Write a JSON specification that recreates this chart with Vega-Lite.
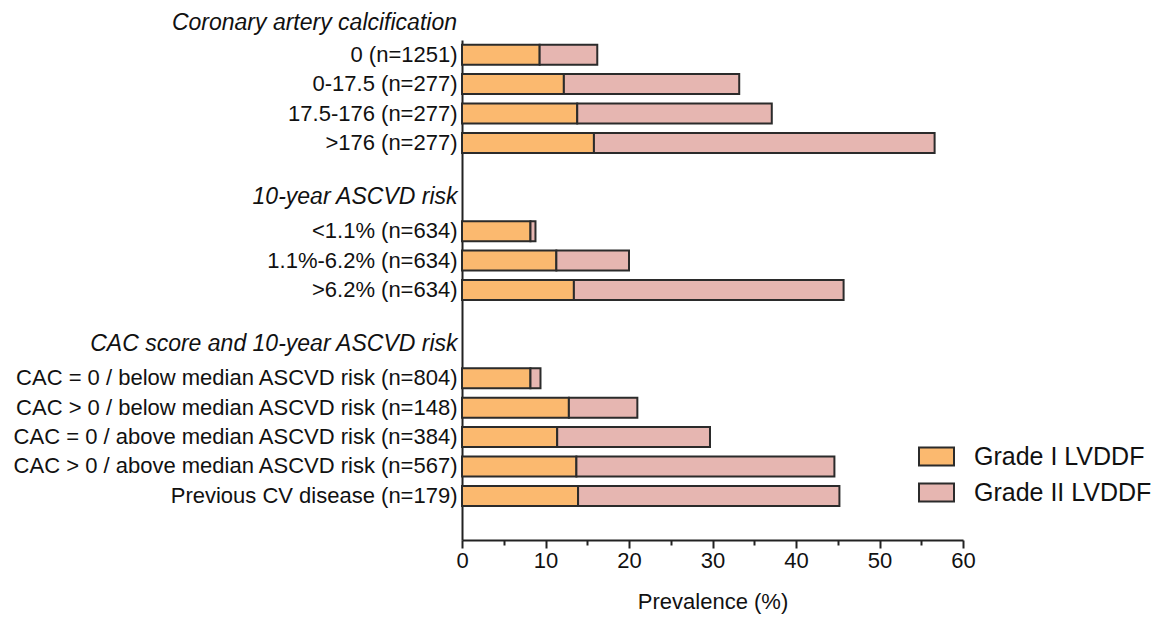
{
  "$schema": "https://vega.github.io/schema/vega-lite/v6.json",
  "autosize": {"type": "none"},
  "padding": {"left": 462, "top": 40, "right": 209, "bottom": 78},
  "width": 501,
  "height": 500,
  "background": "white",
  "title": {
    "text": "Coronary artery calcification",
    "anchor": "start",
    "frame": "group",
    "align": "right",
    "dx": -5,
    "dy": 25,
    "baseline": "alphabetic",
    "offset": 12,
    "font": "Liberation Sans",
    "fontSize": 23,
    "fontStyle": "italic",
    "fontWeight": "normal",
    "color": "#111111"
  },
  "config": {
    "view": {"stroke": null},
    "font": "Liberation Sans"
  },
  "data": {
    "values": [
      {"category": "0 (n=1251)", "grade": "Grade I LVDDF", "value": 9.3},
      {"category": "0 (n=1251)", "grade": "Grade II LVDDF", "value": 6.9},
      {"category": "0-17.5 (n=277)", "grade": "Grade I LVDDF", "value": 12.2},
      {"category": "0-17.5 (n=277)", "grade": "Grade II LVDDF", "value": 21.0},
      {"category": "17.5-176 (n=277)", "grade": "Grade I LVDDF", "value": 13.8},
      {"category": "17.5-176 (n=277)", "grade": "Grade II LVDDF", "value": 23.3},
      {"category": ">176 (n=277)", "grade": "Grade I LVDDF", "value": 15.8},
      {"category": ">176 (n=277)", "grade": "Grade II LVDDF", "value": 40.8},
      {"category": "<1.1% (n=634)", "grade": "Grade I LVDDF", "value": 8.2},
      {"category": "<1.1% (n=634)", "grade": "Grade II LVDDF", "value": 0.6},
      {"category": "1.1%-6.2% (n=634)", "grade": "Grade I LVDDF", "value": 11.3},
      {"category": "1.1%-6.2% (n=634)", "grade": "Grade II LVDDF", "value": 8.7},
      {"category": ">6.2% (n=634)", "grade": "Grade I LVDDF", "value": 13.4},
      {"category": ">6.2% (n=634)", "grade": "Grade II LVDDF", "value": 32.3},
      {"category": "CAC = 0 / below median ASCVD risk (n=804)", "grade": "Grade I LVDDF", "value": 8.2},
      {"category": "CAC = 0 / below median ASCVD risk (n=804)", "grade": "Grade II LVDDF", "value": 1.2},
      {"category": "CAC > 0 / below median ASCVD risk (n=148)", "grade": "Grade I LVDDF", "value": 12.8},
      {"category": "CAC > 0 / below median ASCVD risk (n=148)", "grade": "Grade II LVDDF", "value": 8.2},
      {"category": "CAC = 0 / above median ASCVD risk (n=384)", "grade": "Grade I LVDDF", "value": 11.4},
      {"category": "CAC = 0 / above median ASCVD risk (n=384)", "grade": "Grade II LVDDF", "value": 18.3},
      {"category": "CAC > 0 / above median ASCVD risk (n=567)", "grade": "Grade I LVDDF", "value": 13.7},
      {"category": "CAC > 0 / above median ASCVD risk (n=567)", "grade": "Grade II LVDDF", "value": 30.9},
      {"category": "Previous CV disease (n=179)", "grade": "Grade I LVDDF", "value": 13.9},
      {"category": "Previous CV disease (n=179)", "grade": "Grade II LVDDF", "value": 31.3}
    ]
  },
  "mark": {"type": "bar", "stroke": "#2b2b2b", "strokeWidth": 2},
  "encoding": {
    "y": {
      "field": "category",
      "type": "nominal",
      "scale": {
        "domain": [
          "0 (n=1251)", "0-17.5 (n=277)", "17.5-176 (n=277)", ">176 (n=277)",
          "_b1", "10-year ASCVD risk",
          "<1.1% (n=634)", "1.1%-6.2% (n=634)", ">6.2% (n=634)",
          "_b2", "CAC score and 10-year ASCVD risk",
          "CAC = 0 / below median ASCVD risk (n=804)",
          "CAC > 0 / below median ASCVD risk (n=148)",
          "CAC = 0 / above median ASCVD risk (n=384)",
          "CAC > 0 / above median ASCVD risk (n=567)",
          "Previous CV disease (n=179)",
          "_b3"
        ],
        "paddingInner": 0.32,
        "paddingOuter": 0.16
      },
      "axis": {
        "title": null,
        "ticks": false,
        "tickSize": 0,
        "labelPadding": 5,
        "labelFont": "Liberation Sans",
        "labelColor": "#111111",
        "labelLimit": 0,
        "labelExpr": "indexof(datum.value, '_b') === 0 ? '' : datum.label",
        "labelFontSize": {"expr": "(datum.value === '10-year ASCVD risk' || datum.value === 'CAC score and 10-year ASCVD risk') ? 23 : 22"},
        "labelFontStyle": {"expr": "(datum.value === '10-year ASCVD risk' || datum.value === 'CAC score and 10-year ASCVD risk') ? 'italic' : 'normal'"},
        "labelOffset": {"expr": "(datum.value === '10-year ASCVD risk' || datum.value === 'CAC score and 10-year ASCVD risk') ? -5 : 0"},
        "domainColor": "#222222",
        "domainWidth": 2,
        "grid": false
      }
    },
    "x": {
      "field": "value",
      "type": "quantitative",
      "stack": "zero",
      "scale": {"domain": [0, 60], "nice": false},
      "axis": {
        "title": "Prevalence (%)",
        "titleFont": "Liberation Sans",
        "titleFontSize": 22,
        "titleFontWeight": "normal",
        "titleColor": "#111111",
        "titlePadding": 20,
        "values": [0, 5, 10, 15, 20, 25, 30, 35, 40, 45, 50, 55, 60],
        "labelExpr": "datum.value % 10 === 0 ? datum.label : ''",
        "labelFlush": false,
        "labelOverlap": false,
        "tickSize": {"expr": "datum.value % 10 === 0 ? 8 : 5"},
        "tickColor": "#222222",
        "tickWidth": 2,
        "labelPadding": 2,
        "labelFont": "Liberation Sans",
        "labelFontSize": 22,
        "labelColor": "#111111",
        "domainColor": "#222222",
        "domainWidth": 2,
        "grid": false
      }
    },
    "color": {
      "field": "grade",
      "type": "nominal",
      "scale": {
        "domain": ["Grade I LVDDF", "Grade II LVDDF"],
        "range": ["#FBB96F", "#E6B6B1"]
      },
      "legend": {
        "title": null,
        "orient": "none",
        "legendX": 456,
        "legendY": 398,
        "symbolType": "M-1,-0.514H1V0.514H-1Z",
        "symbolSize": 1225,
        "symbolStrokeColor": "#2b2b2b",
        "symbolStrokeWidth": 2,
        "symbolOpacity": 1,
        "labelFont": "Liberation Sans",
        "labelFontSize": 25,
        "labelColor": "#111111",
        "labelOffset": 19,
        "rowPadding": 4,
        "labelLimit": 0
      }
    }
  }
}
